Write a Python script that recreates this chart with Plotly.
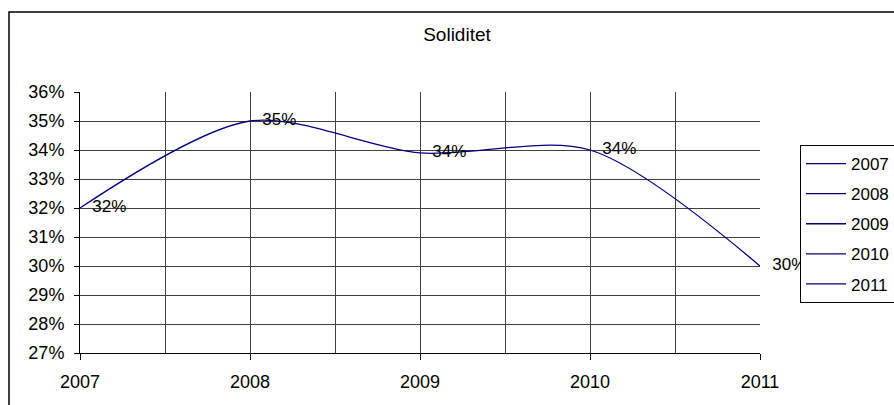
import plotly.graph_objects as go

years = [2007, 2008, 2009, 2010, 2011]
soliditet = [0.32, 0.35, 0.339, 0.34, 0.30]
legend_names = ["2007", "2008", "2009", "2010", "2011"]
title_text = "Soliditet"

FONT = "Liberation Sans, Arial, sans-serif"
NAVY = "#000080"
GRID = "#404040"

fig = go.Figure()
fig.add_trace(go.Scatter(
    x=years, y=soliditet, mode="lines+markers+text",
    line=dict(color=NAVY, width=1.3, shape="spline", smoothing=0.85),
    marker=dict(size=18, color="rgba(0,0,0,0)", line=dict(width=0)),
    texttemplate="%{y:.0%}", textposition="middle right",
    textfont=dict(size=17, color="black", family=FONT),
    cliponaxis=False, showlegend=False, hoverinfo="skip",
))
for i, name in enumerate(legend_names):
    fig.add_trace(go.Scatter(
        x=[None], y=[None], mode="lines", name=name,
        line=dict(color=NAVY, width=1.3), legendgroup=name,
    ))

L, R, T, B = 80, 760, 92, 353
W, H = 894, 405
def px_x(p):
    return (p - L) / (R - L)
def px_y(p):
    return (B - p) / (B - T)

fig.update_layout(
    width=W, height=H,
    margin=dict(l=L, r=W - R, t=T, b=H - B, autoexpand=False),
    paper_bgcolor="white", plot_bgcolor="white",
    font=dict(family=FONT, size=17, color="black"),
    title=dict(text=title_text, x=457 / W, xanchor="center", y=1 - 34 / H, yanchor="middle",
               font=dict(size=19, family=FONT, color="black")),
    legend=dict(x=px_x(800), y=px_y(145), xanchor="left", yanchor="top",
                bordercolor="black", borderwidth=1, bgcolor="white",
                font=dict(size=17, family=FONT, color="black"),
                traceorder="grouped", tracegroupgap=5, itemwidth=40),
    xaxis=dict(range=[2007, 2011], dtick=1, tick0=2007, showgrid=True, gridcolor=GRID, gridwidth=1,
               minor=dict(dtick=0.5, showgrid=True, gridcolor=GRID, gridwidth=1),
               ticks="outside", ticklen=6, tickcolor="black", showline=True, linecolor="black",
               linewidth=1, zeroline=False, ticklabelstandoff=6, tickformat="d",
               tickfont=dict(size=18, family=FONT)),
    yaxis=dict(range=[0.27, 0.36], dtick=0.01, tick0=0.27, tickformat=".0%",
               showgrid=True, gridcolor=GRID, gridwidth=1,
               ticks="outside", ticklen=5, tickcolor="black", showline=True, linecolor="black",
               linewidth=1, zeroline=False, ticklabelstandoff=6,
               tickfont=dict(size=18, family=FONT)),
    shapes=[dict(type="rect", xref="paper", yref="paper",
                 x0=px_x(9), x1=px_x(900), y0=px_y(410), y1=px_y(12),
                 line=dict(color="black", width=1.5), fillcolor="rgba(0,0,0,0)", layer="below")],
)

fig.write_html("out.html", config={"displayModeBar": False},
               post_script="document.body.style.margin='0';document.body.style.overflow='hidden';")
